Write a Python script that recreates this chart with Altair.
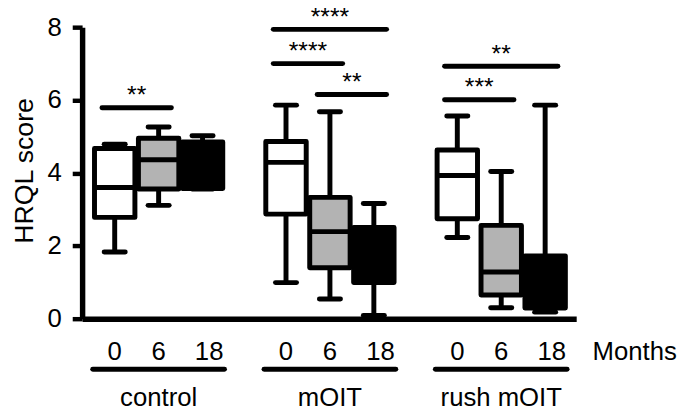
import altair as alt
import pandas as pd

# ---------------- data ----------------
groups = ["control", "mOIT", "rush mOIT"]
months = ["0", "6", "18"]
# one value per box, in order control 0/6/18, mOIT 0/6/18, rush mOIT 0/6/18
whisker_low = [1.83, 3.11, 3.56, 0.99, 0.54, 0.09, 2.23, 0.30, 0.18]
quartile_1 = [2.78, 3.56, 3.57, 2.87, 1.40, 0.99, 2.74, 0.65, 0.29]
medians = [3.60, 4.36, 4.40, 4.29, 2.39, 1.80, 3.93, 1.28, 0.80]
quartile_3 = [4.67, 4.95, 4.85, 4.86, 3.33, 2.50, 4.63, 2.56, 1.72]
whisker_high = [4.79, 5.26, 5.02, 5.86, 5.68, 3.16, 5.56, 4.04, 5.86]

# significance comparisons
sig_group = [0, 1, 1, 1, 2, 2]
sig_from = [0, 0, 0, 1, 0, 0]
sig_to = [1, 2, 1, 2, 2, 1]
sig_level = [5.79, 7.94, 7.00, 6.15, 6.93, 6.01]
sig_label = ["**", "****", "****", "**", "**", "***"]

y_ticks = [0, 2, 4, 6, 8]
fills = ["white", "#b3b3b3", "black"]

# ---------------- layout constants ----------------
GROUP_STEP = 3.9     # distance between groups in box units
HALF = 0.46          # half box width
CAP = 0.24           # half whisker cap width
OVER = 0.29          # overhang of significance bars
UNDER = 0.5          # overhang of group underline
MONTH_Y = -1.14
UNDERLINE_Y = -1.39
GROUP_Y = -2.40
FONT = "Liberation Sans"

rows = []
i = 0
for gi, g in enumerate(groups):
    for ti, m in enumerate(months):
        pos = gi * GROUP_STEP + ti
        rows.append(dict(group=g, month=m, pos=pos,
                         left=pos - HALF, right=pos + HALF,
                         cl=pos - CAP, cr=pos + CAP,
                         lo=whisker_low[i], q1=quartile_1[i], med=medians[i],
                         q3=quartile_3[i], hi=whisker_high[i],
                         label_x=pos + (0.15 if m == "18" else 0.0),
                         label_y=MONTH_Y))
        i += 1
boxes = pd.DataFrame(rows)

caps = pd.concat([
    boxes[["cl", "cr", "lo"]].rename(columns={"lo": "v"}),
    boxes[["cl", "cr", "hi"]].rename(columns={"hi": "v"}),
])

sig = pd.DataFrame(dict(
    start=[g * GROUP_STEP + a - OVER for g, a in zip(sig_group, sig_from)],
    end=[g * GROUP_STEP + b + OVER for g, b in zip(sig_group, sig_to)],
    level=sig_level, label=sig_label))
sig["mid"] = (sig["start"] + sig["end"]) / 2

grp = pd.DataFrame(dict(
    name=groups,
    start=[gi * GROUP_STEP - UNDER for gi in range(3)],
    end=[gi * GROUP_STEP + 2 + UNDER for gi in range(3)],
    mid=[gi * GROUP_STEP + 1 for gi in range(3)],
    uy=[UNDERLINE_Y] * 3, gy=[GROUP_Y] * 3))

months_df = pd.DataFrame(dict(x=[2 * GROUP_STEP + 3.08], y=[MONTH_Y], t=["Months"]))

xs = alt.Scale(domain=[-0.742, 10.507], nice=False, zero=False)
ys = alt.Scale(domain=[0, 8], nice=False, zero=False)
xaxis = alt.Axis(title=None, labels=False, ticks=False, grid=False,
                 domainColor="black", domainWidth=5.5)
yaxis = alt.Axis(title="HRQL score", values=y_ticks, grid=False,
                 labelFont=FONT, labelFontSize=26, labelColor="black",
                 labelPadding=11, tickSize=10, tickWidth=4.5, tickColor="black",
                 domainColor="black", domainWidth=5.5,
                 titleFont=FONT, titleFontSize=27, titleFontWeight="normal",
                 titleColor="black", titleX=-50, titleY=145,
                 titleBaseline="alphabetic", titleAngle=270)


def X(f):
    return alt.X(f, type="quantitative", scale=xs, axis=xaxis)


def Y(f):
    return alt.Y(f, type="quantitative", scale=ys, axis=yaxis)


whisk = alt.Chart(boxes).mark_rule(color="black", strokeWidth=5).encode(
    x=X("pos"), y=Y("lo"), y2="hi")
capl = alt.Chart(caps).mark_rule(color="black", strokeWidth=5, strokeCap="round").encode(
    x=X("cl"), x2="cr", y=Y("v"))
box = alt.Chart(boxes).mark_rect(stroke="black", strokeWidth=5, strokeJoin="round").encode(
    x=X("left"), x2="right", y=Y("q1"), y2="q3",
    fill=alt.Fill("month:N", scale=alt.Scale(domain=months, range=fills), legend=None))
med = alt.Chart(boxes).mark_rule(color="black", strokeWidth=5).encode(
    x=X("left"), x2="right", y=Y("med"))
sigr = alt.Chart(sig).mark_rule(color="black", strokeWidth=5, strokeCap="round").encode(
    x=X("start"), x2="end", y=Y("level"))
sigt = alt.Chart(sig).mark_text(font=FONT, fontSize=25, color="black",
                                baseline="alphabetic", dy=-4.5).encode(
    x=X("mid"), y=Y("level"), text="label")
mlab = alt.Chart(boxes).mark_text(font=FONT, fontSize=26, color="black",
                                  baseline="alphabetic").encode(
    x=X("label_x"), y=Y("label_y"), text="month")
uline = alt.Chart(grp).mark_rule(color="black", strokeWidth=5, strokeCap="round").encode(
    x=X("start"), x2="end", y=Y("uy"))
glab = alt.Chart(grp).mark_text(font=FONT, fontSize=26, color="black",
                                baseline="alphabetic").encode(
    x=X("mid"), y=Y("gy"), text="name")
mtxt = alt.Chart(months_df).mark_text(font=FONT, fontSize=26, color="black",
                                      baseline="alphabetic", align="left").encode(
    x=X("x"), y=Y("y"), text="t")

chart = alt.layer(whisk, capl, box, med, sigr, sigt, mlab, uline, glab, mtxt).properties(
    width=500, height=295,
    autosize=alt.AutoSizeParams(type="none"),
    padding={"left": 75, "top": 17, "right": 102, "bottom": 90},
    background="white",
).configure_view(stroke=None)

chart.save("out.html", embed_options={"renderer": "svg", "actions": False})
